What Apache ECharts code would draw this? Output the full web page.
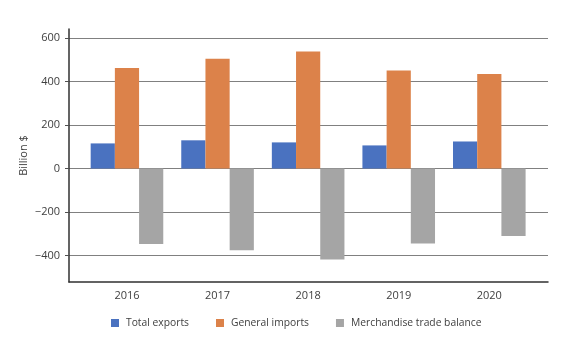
<!DOCTYPE html>
<html>
<head>
<meta charset="utf-8">
<script src="https://cdn.jsdelivr.net/npm/echarts@6/dist/echarts.min.js"></script>
<style>
html,body{margin:0;padding:0;background:#fff;}
#chart{width:567px;height:360px;}
</style>
</head>
<body>
<div id="chart"></div>
<script>
const years = ['2016', '2017', '2018', '2019', '2020'];
const totalExports = [115.6, 129.9, 120.3, 106.4, 124.5];
const generalImports = [462.6, 505.5, 538.5, 450.8, 435.4];
const tradeBalance = [-347.0, -375.6, -418.2, -344.3, -310.8];
const yTicks = [-400, -200, 0, 200, 400, 600];

const font = '"Open Sans", "Segoe UI", sans-serif';
const idx = years.map((_, i) => i);
const pair = arr => arr.map((v, i) => [i, v]);

const chart = echarts.init(document.getElementById('chart'), null, {renderer: 'canvas'});
const barW = 24.2;
chart.setOption({
  animation: false,
  backgroundColor: '#fff',
  textStyle: {fontFamily: font},
  grid: {left: 69, right: 19, top: 29, bottom: 78, containLabel: false},
  xAxis: {
    type: 'value',
    min: -0.64,
    max: 4.648,
    axisLine: {show: true, onZero: false, lineStyle: {color: '#303030', width: 1.5}},
    axisTick: {show: false, customValues: idx},
    splitLine: {show: false},
    axisLabel: {
      customValues: idx,
      formatter: v => years[Math.round(v)] || '',
      color: '#404040', fontSize: 11, fontFamily: font, margin: 8
    }
  },
  yAxis: {
    type: 'value',
    min: -522,
    max: 642,
    name: 'Billion $',
    nameLocation: 'middle',
    nameGap: 40,
    nameMoveOverlap: false,
    nameTextStyle: {color: '#404040', fontSize: 11, fontFamily: font},
    axisLine: {show: true, onZero: false, lineStyle: {color: '#303030', width: 1.5}},
    axisTick: {show: true, length: 4, customValues: yTicks, lineStyle: {color: '#505050'}},
    axisLabel: {
      customValues: yTicks,
      formatter: v => String(v).replace('-', '\u2212'),
      color: '#404040', fontSize: 11, fontFamily: font, margin: 9
    },
    splitLine: {show: true, lineStyle: {color: '#808080', width: 1.2}}
  },
  legend: {
    bottom: 27,
    left: 106,
    itemWidth: 8,
    itemHeight: 8,
    itemGap: 27,
    icon: 'rect',
    textStyle: {color: '#404040', fontSize: 10.3, fontFamily: font, padding: [0, 0, 0, 2]},
    data: ['Total exports', 'General imports', 'Merchandise trade balance']
  },
  series: [
    {name: 'Total exports', type: 'bar', data: pair(totalExports), barWidth: barW, barGap: '0%', itemStyle: {color: '#4a72c0'}},
    {name: 'General imports', type: 'bar', data: pair(generalImports), barWidth: barW, barGap: '0%', itemStyle: {color: '#dc824a'}},
    {name: 'Merchandise trade balance', type: 'bar', data: pair(tradeBalance), barWidth: barW, barGap: '0%', itemStyle: {color: '#a5a5a5'}}
  ]
});
</script>
</body>
</html>
